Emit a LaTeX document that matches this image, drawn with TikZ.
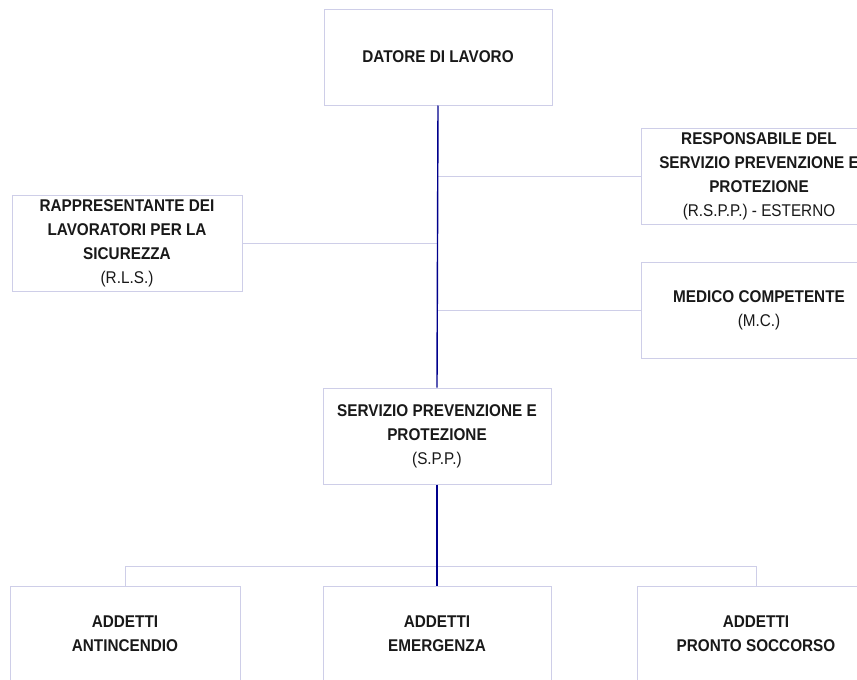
\documentclass[tikz,border=0pt]{standalone}
\usepackage{fontspec}
\setmainfont{Liberation Sans}[FakeStretch=0.9]
\definecolor{boxline}{RGB}{206,206,232}
\definecolor{mainline}{RGB}{0,0,140}
\tikzset{
  orgbox/.style={draw=boxline, line width=1pt, fill=white, minimum height=96pt, inner sep=0pt,
    align=center, font=\fontsize{17}{24}\selectfont, text=black!90},
  sideline/.style={draw=boxline, line width=1pt},
  spine/.style={draw=mainline, line width=1.4pt}
}
\begin{document}
\begin{tikzpicture}[x=1pt,y=-1pt]
\useasboundingbox (0,0) rectangle (857,680);
\fill[white] (0,0) rectangle (857,680);
% nodes
\node[orgbox, minimum width=228pt] (dat) at (438,57) {\textbf{DATORE DI LAVORO}};
\node[orgbox, minimum width=236pt] (rspp) at (759,176) {\textbf{RESPONSABILE DEL}\\\textbf{SERVIZIO PREVENZIONE E}\\\textbf{PROTEZIONE}\\(R.S.P.P.) - ESTERNO};
\node[orgbox, minimum width=230pt] (rls) at (127,243) {\textbf{RAPPRESENTANTE DEI}\\\textbf{LAVORATORI PER LA}\\\textbf{SICUREZZA}\\(R.L.S.)};
\node[orgbox, minimum width=236pt] (mc) at (759,310) {\textbf{MEDICO COMPETENTE}\\(M.C.)};
\node[orgbox, minimum width=228pt] (spp) at (437,436) {\textbf{SERVIZIO PREVENZIONE E}\\\textbf{PROTEZIONE}\\(S.P.P.)};
\node[orgbox, minimum width=230pt] (ant) at (125,634) {\textbf{ADDETTI}\\\textbf{ANTINCENDIO}};
\node[orgbox, minimum width=228pt] (em) at (437,634) {\textbf{ADDETTI}\\\textbf{EMERGENZA}};
\node[orgbox, minimum width=238pt] (ps) at (756,634) {\textbf{ADDETTI}\\\textbf{PRONTO SOCCORSO}};
\coordinate (busy) at (437,566);
% side connectors
\draw[sideline] (rspp.west -| dat.south) -- (rspp.west);
\draw[sideline] (rls.east) -- (rls.east -| dat.south);
\draw[sideline] (mc.west -| dat.south) -- (mc.west);
% bottom bus
\draw[sideline] (ant.north) -- (ant.north |- busy) -- (ps.north |- busy) -- (ps.north);
% spine
\draw[spine] (dat.south) -- (spp.north);
\draw[spine] (spp.south) -- (em.north);
\end{tikzpicture}
\end{document}
